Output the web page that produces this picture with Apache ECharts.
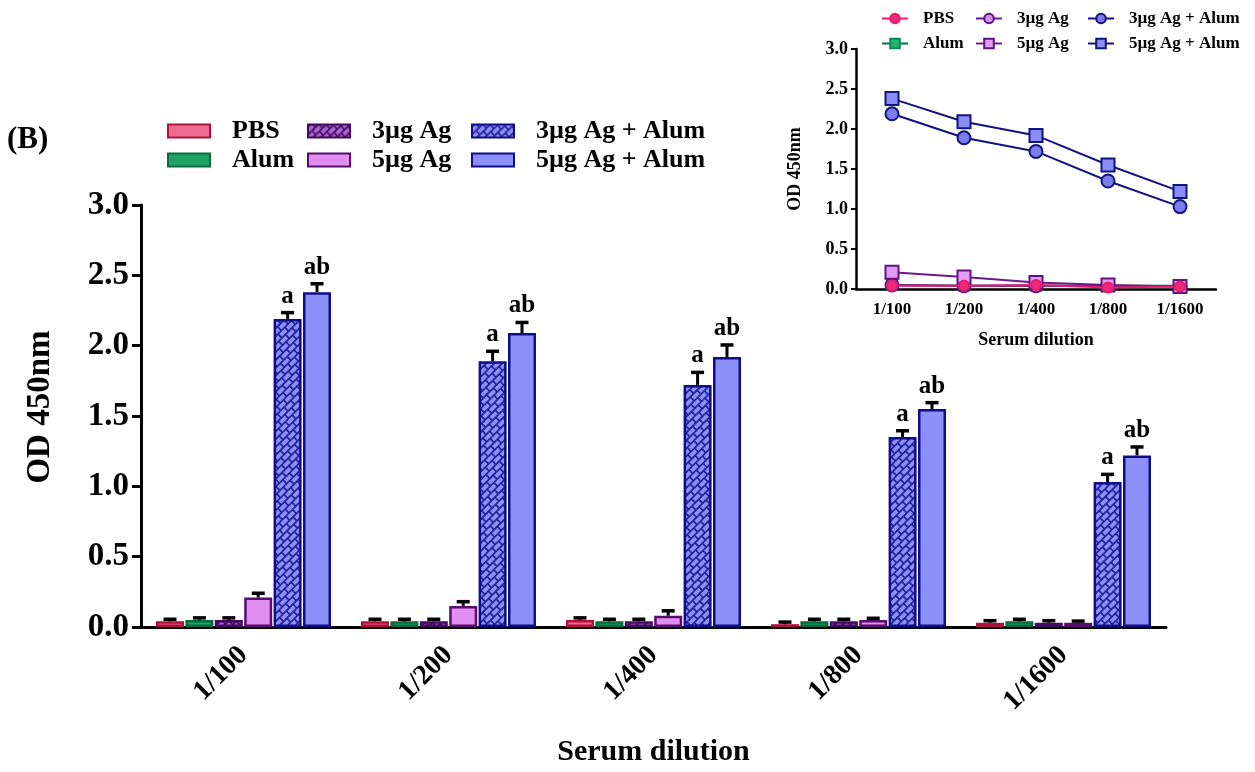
<!DOCTYPE html>
<html>
<head>
<meta charset="utf-8">
<script src="https://cdn.jsdelivr.net/npm/echarts@6/dist/echarts.min.js"></script>
<style>html,body{margin:0;padding:0;background:#fff}#c{width:1255px;height:772px}</style>
</head>
<body>
<div id="c"></div>
<script>
// ---------------- data ----------------
const categories = ['1/100', '1/200', '1/400', '1/800', '1/1600'];
const seriesNames = ['PBS', 'Alum', '3µg Ag', '5µg Ag', '3µg Ag + Alum', '5µg Ag + Alum'];
const pbs      = [0.04, 0.04, 0.05, 0.02, 0.03];
const alum     = [0.05, 0.04, 0.04, 0.04, 0.04];
const ag3      = [0.05, 0.04, 0.04, 0.04, 0.03];
const ag5      = [0.21, 0.15, 0.08, 0.05, 0.03];
const ag3Alum  = [2.19, 1.89, 1.72, 1.35, 1.03];
const ag5Alum  = [2.38, 2.09, 1.92, 1.55, 1.22];
const errPbs     = [0.015, 0.015, 0.015, 0.015, 0.015];
const errAlum    = [0.015, 0.015, 0.015, 0.015, 0.015];
const errAg3     = [0.015, 0.015, 0.015, 0.015, 0.015];
const errAg5     = [0.03, 0.03, 0.035, 0.012, 0.012];
const errAg3Alum = [0.045, 0.07, 0.09, 0.045, 0.055];
const errAg5Alum = [0.06, 0.075, 0.085, 0.045, 0.06];
const sigAg3Alum = ['a', 'a', 'a', 'a', 'a'];
const sigAg5Alum = ['ab', 'ab', 'ab', 'ab', 'ab'];

// ---------------- styling ----------------
const FONT = '"Liberation Serif", "Times New Roman", serif';
const BAR_W = 28, BAR_GAP = 1.4;

function brickPattern(bg, fg) {
  const W = 1255, H = 772;
  const c = document.createElement('canvas');
  c.width = W; c.height = H;
  const ctx = c.getContext('2d');
  ctx.fillStyle = bg; ctx.fillRect(0, 0, W, H);
  ctx.save();
  ctx.rotate(-Math.PI / 4);
  ctx.fillStyle = fg;
  const rowH = 5.6, L = 9.5, g = 1.7;
  // local u = (x - y)/sqrt2, v = (x + y)/sqrt2
  const uMin = -H * 0.7072 - 20, uMax = W * 0.7072 + 20;
  const vMin = -20, vMax = (W + H) * 0.7072 + 20;
  let row = 0;
  for (let v = vMin; v < vMax; v += rowH, row++) {
    const off = (row % 2) * L / 2;
    for (let u = uMin - L + off; u < uMax; u += L) {
      ctx.fillRect(u, v, L - g, rowH - g);
    }
  }
  ctx.restore();
  return { image: c, repeat: 'repeat' };
}

const pat3A = brickPattern('#22229e', '#8d8ff4');
const patAg3 = brickPattern('#4a0c68', '#a866c8');

const barStyles = [
  { color: '#ef6a90', borderColor: '#b0103e' },
  { color: '#1fa265', borderColor: '#0b6a3b' },
  { color: patAg3,    borderColor: '#45095f' },
  { color: '#e28ef0', borderColor: '#560d6e' },
  { color: pat3A,     borderColor: '#0e0f88' },
  { color: '#8c8ff5', borderColor: '#0e0f88' }
];
const barValues = [pbs, alum, ag3, ag5, ag3Alum, ag5Alum];
const barErrs = [errPbs, errAlum, errAg3, errAg5, errAg3Alum, errAg5Alum];
const barSigs = [null, null, null, null, sigAg3Alum, sigAg5Alum];

const series = [];
barValues.forEach((vals, k) => {
  series.push({
    type: 'bar', name: seriesNames[k], xAxisIndex: 0, yAxisIndex: 0,
    data: vals, barWidth: BAR_W, barGap: (BAR_GAP / BAR_W * 100) + '%',
    itemStyle: Object.assign({ borderWidth: 2.5 }, barStyles[k]),
    z: 2
  });
});
barValues.forEach((vals, k) => {
  const errs = barErrs[k], sig = barSigs[k];
  series.push({
    type: 'custom', xAxisIndex: 0, yAxisIndex: 0, silent: true, z: 5,
    data: vals.map((v, i) => [i, v, errs[i]]),
    renderItem: function (params, api) {
      const i = api.value(0), v = api.value(1), e = api.value(2);
      const base = api.coord([i, v]);
      const top = api.coord([i, v + e]);
      const x = base[0] + (k - 2.5) * (BAR_W + BAR_GAP);
      const children = [
        { type: 'line', shape: { x1: x, y1: base[1], x2: x, y2: top[1] }, style: { stroke: '#000', lineWidth: 3 } },
        { type: 'line', shape: { x1: x - 6.5, y1: top[1], x2: x + 6.5, y2: top[1] }, style: { stroke: '#000', lineWidth: 3.5 } }
      ];
      if (sig) {
        children.push({ type: 'text', x: x, y: top[1] - 4,
          style: { text: sig[params.dataIndex], fill: '#000', font: 'bold 25px ' + FONT, textAlign: 'center', textVerticalAlign: 'bottom' } });
      }
      return { type: 'group', children: children };
    }
  });
});

// inset lines
const lineStyles = [
  { line: '#e8196e', fill: '#ef2a78', border: '#e8196e', symbol: 'circle' },
  { line: '#0b7048', fill: '#1fb473', border: '#0f8a55', symbol: 'rect' },
  { line: '#6a1a8a', fill: '#d48ff0', border: '#5e1480', symbol: 'circle' },
  { line: '#6a1a8a', fill: '#e49af2', border: '#5e1480', symbol: 'rect' },
  { line: '#13137f', fill: '#7a7ce8', border: '#13137f', symbol: 'circle' },
  { line: '#13137f', fill: '#8a8ef4', border: '#13137f', symbol: 'rect' }
];
const insetOrder = [1, 2, 3, 4, 5, 0];
insetOrder.forEach(k => {
  const s = lineStyles[k];
  series.push({
    type: 'line', name: 'i:' + seriesNames[k], xAxisIndex: 1, yAxisIndex: 1,
    data: barValues[k], symbol: s.symbol, symbolSize: k === 0 || k === 1 ? 10 : 13,
    lineStyle: { color: s.line, width: 2 },
    itemStyle: { color: s.fill, borderColor: s.border, borderWidth: 2 },
    z: k === 0 ? 6 : 4, silent: true
  });
});

const mainLegendText = { fontFamily: FONT, fontWeight: 'bold', fontSize: 26, color: '#000', padding: [0, 0, 0, 17] };
const insetLegendText = { fontFamily: FONT, fontWeight: 'bold', fontSize: 17, color: '#000', padding: [0, 0, 0, 10] };
function mainLegend(left, names) {
  return { orient: 'vertical', left: left, top: 118, padding: 0, itemWidth: 42, itemHeight: 13, itemGap: 3,
    icon: 'rect', selectedMode: false, data: names, textStyle: mainLegendText };
}
function insetLegend(left, names) {
  return { orient: 'vertical', left: left, top: 10, padding: 0, itemWidth: 26, itemHeight: 12, itemGap: 8,
    selectedMode: false, data: names, textStyle: insetLegendText,
    formatter: n => n.replace('i:', '') };
}

const option = {
  animation: false,
  backgroundColor: '#fff',
  graphic: [{ type: 'text', left: 7, top: 124, style: { text: '(B)', font: 'bold 31px ' + FONT, fill: '#000' } }],
  legend: [
    mainLegend(167, [seriesNames[0], seriesNames[1]]),
    mainLegend(307, [seriesNames[2], seriesNames[3]]),
    mainLegend(471, [seriesNames[4], seriesNames[5]]),
    insetLegend(881, ['i:' + seriesNames[0], 'i:' + seriesNames[1]]),
    insetLegend(975, ['i:' + seriesNames[2], 'i:' + seriesNames[3]]),
    insetLegend(1087, ['i:' + seriesNames[4], 'i:' + seriesNames[5]])
  ],
  grid: [
    { left: 141, top: 205, width: 1025, height: 423 },
    { left: 856, top: 49, width: 360, height: 240 }
  ],
  xAxis: [
    { type: 'category', gridIndex: 0, data: categories,
      axisLine: { lineStyle: { color: '#000', width: 3 } },
      axisTick: { alignWithLabel: true, length: 11, lineStyle: { color: '#000', width: 3 } },
      axisLabel: { rotate: 45, margin: 24, fontFamily: FONT, fontWeight: 'bold', fontSize: 28, color: '#000' },
      name: 'Serum dilution', nameLocation: 'middle', nameGap: 110,
      nameTextStyle: { fontFamily: FONT, fontWeight: 'bold', fontSize: 30, color: '#000' } },
    { type: 'category', gridIndex: 1, data: categories,
      axisLine: { lineStyle: { color: '#000', width: 2.5 } },
      axisTick: { alignWithLabel: true, length: 5, lineStyle: { color: '#000', width: 2 } },
      axisLabel: { margin: 12, fontFamily: FONT, fontWeight: 'bold', fontSize: 17, color: '#000' },
      name: 'Serum dilution', nameLocation: 'middle', nameGap: 42,
      nameTextStyle: { fontFamily: FONT, fontWeight: 'bold', fontSize: 18, color: '#000' } }
  ],
  yAxis: [
    { type: 'value', gridIndex: 0, min: 0, max: 3, interval: 0.5,
      axisLine: { show: true, lineStyle: { color: '#000', width: 3 } },
      axisTick: { show: true, length: 9, lineStyle: { color: '#000', width: 3 } },
      splitLine: { show: false },
      axisLabel: { margin: 12, formatter: v => v.toFixed(1), fontFamily: FONT, fontWeight: 'bold', fontSize: 33, color: '#000' },
      name: 'OD 450nm', nameLocation: 'middle', nameGap: 84,
      nameTextStyle: { fontFamily: FONT, fontWeight: 'bold', fontSize: 33, color: '#000', padding: [0, 0, 0, 18] } },
    { type: 'value', gridIndex: 1, min: 0, max: 3, interval: 0.5,
      axisLine: { show: true, lineStyle: { color: '#000', width: 2.5 } },
      axisTick: { show: true, length: 5, lineStyle: { color: '#000', width: 2 } },
      splitLine: { show: false },
      axisLabel: { margin: 8, formatter: v => v.toFixed(1), fontFamily: FONT, fontWeight: 'bold', fontSize: 18, color: '#000' },
      name: 'OD 450nm', nameLocation: 'middle', nameGap: 52,
      nameTextStyle: { fontFamily: FONT, fontWeight: 'bold', fontSize: 18, color: '#000' } }
  ],
  series: series
};

const chart = echarts.init(document.getElementById('c'), null, { renderer: 'canvas' });
chart.setOption(option);
</script>
</body>
</html>
